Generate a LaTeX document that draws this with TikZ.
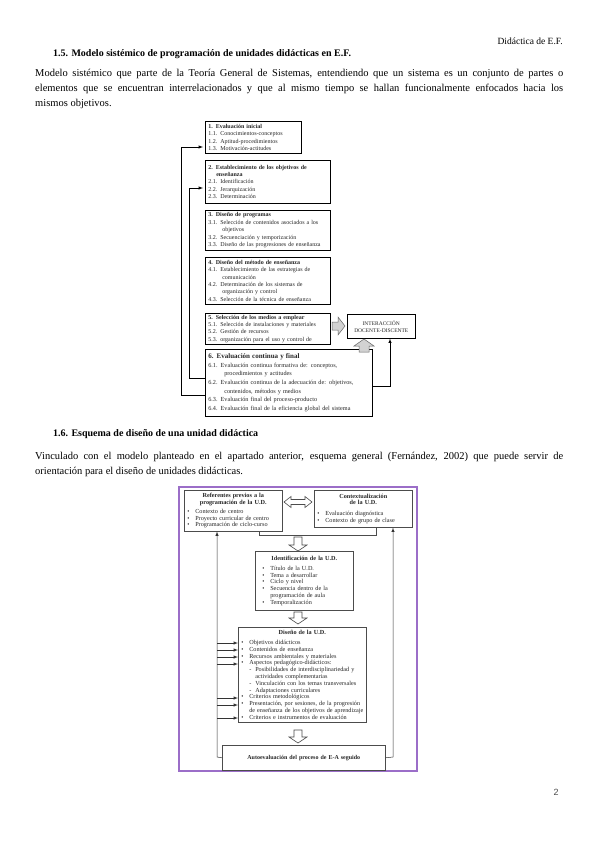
\documentclass[tikz,border=0pt]{standalone}
\usepackage{fontspec}
\setmainfont{Liberation Serif}
\newfontfamily\pagina{Liberation Sans}
\newcommand{\bul}{\makebox[8pt][l]{\textbullet}}
\newcommand{\guion}{\hspace*{8pt}\makebox[6pt][l]{-}}

\begin{document}
\begin{tikzpicture}[x=1pt, y=-1pt,
  texto/.style={anchor=base west, inner sep=0pt, font=\fontsize{10.5}{15}\selectfont},
  titulo/.style={anchor=base west, inner sep=0pt, font=\fontsize{10}{12}\selectfont\bfseries},
  caja/.style={draw, line width=0.6pt, anchor=north west, inner xsep=3pt, inner ysep=1.5pt, align=left, text=black!85, font=\fontsize{6}{7.4}\selectfont},
  cajab/.style={draw=black!70, line width=0.6pt, anchor=north west, inner xsep=3pt, inner ysep=3pt, align=left, text=black!85, font=\fontsize{6.2}{6.8}\selectfont},
  flecha/.style={->, >=latex, line width=0.5pt},
  gruesa/.style={fill=gray!35, draw=black!60, line width=0.5pt},
  hueca/.style={fill=white, draw=black!70, line width=0.6pt}]
\fill[white] (0,0) rectangle (599,848);
\useasboundingbox (0,0) rectangle (599,848);

\node[anchor=base east, inner sep=0pt, font=\fontsize{9.5}{11}\selectfont] (cab) at (563,45) {Didáctica de E.F.};
\node[titulo] (tit1) at (53,57) {1.5. Modelo sistémico de programación de unidades didácticas en E.F.};
\node[texto] (p1a) at (35,77) {\makebox[528pt][s]{Modelo sistémico que parte de la Teoría General de Sistemas, entendiendo que un sistema es un conjunto de partes o}};
\node[texto] (p1b) at (35,92) {\makebox[528pt][s]{elementos que se encuentran interrelacionados y que al mismo tiempo se hallan funcionalmente enfocados hacia los}};
\node[texto] (p1c) at (35,107) {mismos objetivos.};

\node[caja, text width=90pt, minimum height=32pt] (b1) at (205,121) {\textbf{1.\enspace Evaluación inicial}\\1.1.\enspace Conocimientos-conceptos\\1.2.\enspace Aptitud-procedimientos\\1.3.\enspace Motivación-actitudes};
\node[caja, text width=119pt, minimum height=43pt] (b2) at (205,160) {\textbf{2. Establecimiento de los objetivos de}\\\hspace*{8pt}\textbf{enseñanza}\\2.1. Identificación\\2.2. Jerarquización\\2.3. Determinación};
\node[caja, text width=119pt, minimum height=40pt] (b3) at (205,210) {\textbf{3. Diseño de programas}\\3.1. Selección de contenidos asociados a los\\\hspace*{14pt}objetivos\\3.2. Secuenciación y temporización\\3.3. Diseño de las progresiones de enseñanza};
\node[caja, text width=119pt, minimum height=47pt] (b4) at (205,257) {\textbf{4. Diseño del método de enseñanza}\\4.1. Establecimiento de las estrategias de\\\hspace*{14pt}comunicación\\4.2. Determinación de los sistemas de\\\hspace*{14pt}organización y control\\4.3. Selección de la técnica de enseñanza};
\node[caja, text width=119pt, minimum height=31pt] (b5) at (205,313) {\textbf{5. Selección de los medios a emplear}\\5.1. Selección de instalaciones y materiales\\5.2. Gestión de recursos\\5.3. organización para el uso y control de};
\node[caja, text width=161pt, minimum height=67pt, font=\fontsize{6.2}{8.6}\selectfont] (b6) at (205,349) {{\fontsize{7}{9}\selectfont\textbf{6. Evaluación continua y final}}\\6.1. Evaluación continua formativa de: conceptos,\\\hspace*{16pt}procedimientos y actitudes\\6.2. Evaluación continua de la adecuación de: objetivos,\\\hspace*{16pt}contenidos, métodos y medios\\6.3. Evaluación final del proceso-producto\\6.4. Evaluación final de la eficiencia global del sistema};
\node[draw, line width=0.6pt, anchor=north west, minimum width=68pt, minimum height=24pt, align=center, text=black!85, font=\fontsize{5.5}{7}\selectfont] (inter) at (347,314) {INTERACCIÓN\\DOCENTE-DISCENTE};

\draw[gruesa] (332,322) -- (338,322) -- (338,317) -- (345,326) -- (338,335) -- (338,330) -- (332,330) -- cycle;
\draw[gruesa] (364,339) -- (374,346) -- (369,346) -- (369,352) -- (359,352) -- (359,346) -- (354,346) -- cycle;
\draw[flecha] (b6.east |- 0,386) -- (390,386) -- (inter.south -| 390,0);
\draw[flecha, shorten >=2pt] (b6.west |- 0,395) -- (181,395) |- (b1.west |- 0,147);
\draw[flecha, shorten >=2pt] (b6.west |- 0,378) -- (189,378) |- (b2.west |- 0,188);

\node[titulo] (tit2) at (53,436) {1.6. Esquema de diseño de una unidad didáctica};
\node[texto] (p2a) at (35,459) {\makebox[528pt][s]{Vinculado con el modelo planteado en el apartado anterior, esquema general (Fernández, 2002) que puede servir de}};
\node[texto] (p2b) at (35,474) {orientación para el diseño de unidades didácticas.};

\definecolor{marco}{RGB}{155,110,200}
\draw[marco, line width=1.3pt] (179,487) rectangle (417,771);

\node[cajab, text width=92pt, minimum height=38pt] (ref) at (184,490) {{\centering\bfseries Referentes previos a la\\programación de la U.D.\par}\vspace{2pt}\bul Contexto de centro\\\bul Proyecto curricular de centro\\\bul Programación de ciclo-curso};
\node[cajab, text width=92pt, minimum height=37pt] (ctx) at (314,490) {{\centering\bfseries Contextualización\\de la U.D.\par}\vspace{4pt}\bul Evaluación diagnóstica\\\bul Contexto de grupo de clase};
\draw[hueca] (284,502) -- (291,496.5) -- (291,499.5) -- (305,499.5) -- (305,496.5) -- (312,502) -- (305,507.5) -- (305,504.5) -- (291,504.5) -- (291,507.5) -- cycle;
\draw[line width=0.6pt, black!70] (ref.south -| 259,0) -- (259,535) -- (376,535) -- (ctx.south -| 376,0);

\node[cajab, text width=92pt, minimum height=59pt] (ident) at (255,551) {{\centering\bfseries Identificación de la U.D.\par}\vspace{3pt}\hspace*{4pt}\bul Título de la U.D.\\\hspace*{4pt}\bul Tema a desarrollar\\\hspace*{4pt}\bul Ciclo y nivel\\\hspace*{4pt}\bul Secuencia dentro de la\\\hspace*{12pt}programación de aula\\\hspace*{4pt}\bul Temporalización};
\node[cajab, text width=122pt] (diseno) at (238,627) {{\centering\bfseries Diseño de la U.D.\par}\vspace{3pt}\bul Objetivos didácticos\\\bul Contenidos de enseñanza\\\bul Recursos ambientales y materiales\\\bul Aspectos pedagógico-didácticos:\\\guion Posibilidades de interdisciplinariedad y\\\hspace*{14pt}actividades complementarias\\\guion Vinculación con los temas transversales\\\guion Adaptaciones curriculares\\\bul Criterios metodológicos\\\bul Presentación, por sesiones, de la progresión\\\hspace*{8pt}de enseñanza de los objetivos de aprendizaje\\\bul Criterios e instrumentos de evaluación};
\node[cajab, align=center, text width=157pt, minimum height=25pt, font=\fontsize{6}{6.8}\selectfont\bfseries] (autoev) at (222,745) {Autoevaluación del proceso de E-A seguido};

\foreach \ya/\yb in {537/551, 612/624, 730/743}
  \draw[hueca] (294,\ya) -- (302,\ya) -- (302,{\yb-6}) -- (307,{\yb-6}) -- (298,\yb) -- (289,{\yb-6}) -- (294,{\yb-6}) -- cycle;

\coordinate (izq) at (217,757);
\coordinate (der) at (393,757);
\draw[flecha, black!80] (autoev.west) -- (izq) -- (ref.south -| izq);
\draw[flecha, black!80] (autoev.east) -- (der) -- (ctx.south -| der);
\foreach \y in {643,650,657,664,698,705,718}
  \draw[flecha, black!80] (izq |- 0,\y) -- (diseno.west |- 0,\y);

\node[anchor=base, inner sep=0pt, font=\pagina\fontsize{9}{10}\selectfont, text=black!70] (pag) at (556,795) {2};
\end{tikzpicture}
\end{document}
